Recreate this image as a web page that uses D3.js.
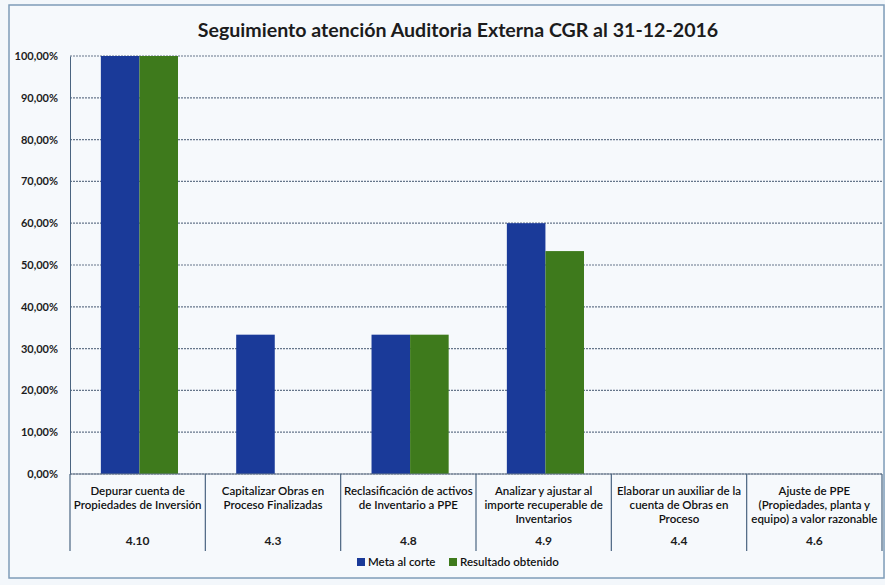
<!DOCTYPE html>
<meta charset="utf-8">
<script src="https://d3js.org/d3.v7.min.js"></script>
<html>
<style>
body { margin: 0; background: #f3f7fb; }
text { font-family: Lato, "Open Sans", sans-serif; fill: #1c1c1c; }
</style>
<body>
<div id="chart"></div>
<script>
// data
var codes = ["4.10", "4.3", "4.8", "4.9", "4.4", "4.6"];
var descriptions = [
  ["Depurar cuenta de", "Propiedades de Inversión"],
  ["Capitalizar Obras en", "Proceso Finalizadas"],
  ["Reclasificación de activos", "de Inventario a PPE"],
  ["Analizar y ajustar al", "importe recuperable de", "Inventarios"],
  ["Elaborar un auxiliar de la", "cuenta de Obras en", "Proceso"],
  ["Ajuste de PPE", "(Propiedades, planta y", "equipo) a valor razonable"]
];
var series = ["Meta al corte", "Resultado obtenido"];
var meta = [1.0, 0.3333, 0.3333, 0.60, 0, 0];
var resultado = [1.0, 0, 0.3333, 0.5333, 0, 0];
var yTicks = [0, 0.1, 0.2, 0.3, 0.4, 0.5, 0.6, 0.7, 0.8, 0.9, 1.0];

var W = 885, H = 585;
var margin = { top: 56, right: 3, bottom: 111, left: 70 },
    width = W - margin.left - margin.right,
    height = H - margin.top - margin.bottom;

var svg = d3.select("#chart").append("svg")
    .attr("width", W).attr("height", H);

// outer frame
svg.append("rect")
    .attr("x", 9).attr("y", 5).attr("width", W - 10).attr("height", 573)
    .attr("fill", "#f6f9fc").attr("stroke", "#7f9cb8").attr("stroke-width", 1.5);

svg.append("text")
    .attr("x", 458).attr("y", 37)
    .attr("text-anchor", "middle")
    .style("font-size", "19.6px").style("font-weight", "bold")
    .text("Seguimiento atención Auditoria Externa CGR al 31-12-2016");

var g = svg.append("g")
    .attr("transform", "translate(" + margin.left + "," + margin.top + ")");

var x0 = d3.scaleBand().domain(codes).range([0, width]);
var x1 = d3.scaleBand().domain(series)
    .range([x0.bandwidth() * 0.228, x0.bandwidth() * 0.798]);
var y = d3.scaleLinear().domain([0, 1]).range([height, 0]);
var color = d3.scaleOrdinal().domain(series).range(["#1a3a99", "#3e7a1c"]);

var fmt = function (d) { return d3.format(".2f")(d * 100).replace(".", ",") + "%"; };

// gridlines
g.selectAll(".grid").data(yTicks).enter().append("line")
    .attr("x1", 0).attr("x2", width)
    .attr("y1", function (d) { return y(d); }).attr("y2", function (d) { return y(d); })
    .attr("stroke", "#66768a").attr("stroke-width", 1.2)
    .attr("stroke-dasharray", "2,1");

// y axis
var yAxis = g.append("g").call(d3.axisLeft(y).tickValues(yTicks).tickFormat(fmt).tickSize(0).tickPadding(12));
yAxis.select(".domain").attr("stroke", "#4a6480");
yAxis.selectAll("text").style("font-size", "11px").style("font-weight", "bold").style("fill", "#1c1c1c");

// bars
var rows = codes.map(function (c, i) { return { code: c, values: [meta[i], resultado[i]] }; });
var grp = g.selectAll(".grp").data(rows).enter().append("g")
    .attr("transform", function (d) { return "translate(" + x0(d.code) + ",0)"; });
grp.selectAll("rect").data(function (d) { return d.values.map(function (v, j) { return { s: series[j], v: v }; }); })
    .enter().append("rect")
    .attr("x", function (d) { return x1(d.s); })
    .attr("width", x1.bandwidth())
    .attr("y", function (d) { return y(d.v); })
    .attr("height", function (d) { return height - y(d.v); })
    .attr("fill", function (d) { return color(d.s); });

// category axis
var xa = g.append("g").attr("transform", "translate(0," + height + ")");
xa.append("line").attr("x1", 0).attr("x2", width).attr("stroke", "#66768a").attr("stroke-width", 1.2);
var seps = codes.map(function (c) { return x0(c); }).concat([width]);
xa.selectAll(".sep").data(seps).enter().append("line")
    .attr("x1", function (d) { return d; }).attr("x2", function (d) { return d; })
    .attr("y1", 0).attr("y2", 77)
    .attr("stroke", "#4a6480").attr("stroke-width", 1.2);

codes.forEach(function (c, i) {
  var cx = x0(c) + x0.bandwidth() / 2;
  var t = xa.append("text").attr("text-anchor", "middle")
      .style("font-size", "11.5px").style("font-weight", "600").style("fill", "#111");
  descriptions[i].forEach(function (line, k) {
    t.append("tspan").attr("x", cx).attr("y", 21 + k * 14).text(line);
  });
  xa.append("text").attr("x", cx).attr("y", 71).attr("text-anchor", "middle")
    .style("font-size", "12px").style("font-weight", "bold").text(c);
});

// legend
var lx = [357, 449];
var leg = svg.selectAll(".leg").data(series).enter().append("g")
    .attr("transform", function (d, i) { return "translate(" + lx[i] + ",566)"; });
leg.append("rect").attr("x", 0).attr("y", -8).attr("width", 8).attr("height", 8)
    .attr("fill", function (d) { return color(d); });
leg.append("text").attr("x", 11).attr("y", 0)
    .style("font-size", "11.5px").style("font-weight", "600").style("fill", "#111")
    .text(function (d) { return d; });
</script>
</body>
</html>
